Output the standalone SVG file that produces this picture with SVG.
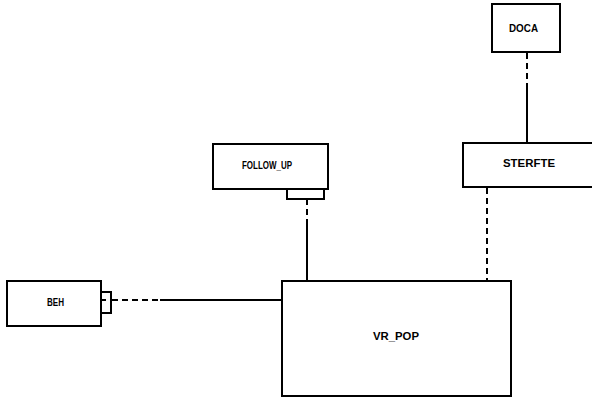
<svg xmlns="http://www.w3.org/2000/svg" width="592" height="398" viewBox="0 0 592 398">
<style>
.box{fill:#fff;stroke:#000;stroke-width:2}
.lbl{font-family:"Liberation Sans",Arial,sans-serif;font-weight:bold;font-size:11px;fill:#000}
.ln{stroke:#000;stroke-width:2;fill:none}
.dash{stroke:#000;stroke-width:2;fill:none;stroke-dasharray:6 4}
</style>
<rect width="592" height="398" fill="#fff"/>
<g id="connectors">
<line class="dash" x1="527" y1="53" x2="527" y2="84"/>
<line class="ln" x1="527" y1="84" x2="527" y2="143"/>
<line class="dash" x1="307" y1="199" x2="307" y2="222"/>
<line class="ln" x1="307" y1="222" x2="307" y2="281"/>
<line class="dash" x1="487" y1="188" x2="487" y2="281"/>
<line class="dash" x1="112" y1="300" x2="160" y2="300"/>
<line class="ln" x1="160" y1="300" x2="282" y2="300"/>
</g>
<g id="DOCA">
<rect class="box" x="492" y="4" width="68" height="48"/>
<text class="lbl" x="509" y="32" textLength="29" lengthAdjust="spacingAndGlyphs">DOCA</text>
</g>
<g id="FOLLOW_UP">
<rect class="box" x="213" y="144" width="115" height="45"/>
<rect class="box" x="287" y="189" width="37" height="10"/>
<text class="lbl" x="242" y="169" textLength="50" lengthAdjust="spacingAndGlyphs">FOLLOW_UP</text>
</g>
<g id="STERFTE">
<rect class="box" x="463" y="143" width="140" height="44"/>
<text class="lbl" x="503" y="167" textLength="52" lengthAdjust="spacingAndGlyphs">STERFTE</text>
</g>
<g id="BEH">
<rect class="box" x="7" y="281" width="94" height="45"/>
<rect class="box" x="101" y="292" width="10" height="21"/>
<line class="ln" x1="101" y1="300" x2="106" y2="300"/>
<text class="lbl" x="47" y="306" textLength="17" lengthAdjust="spacingAndGlyphs">BEH</text>
</g>
<g id="VR_POP">
<rect class="box" x="282" y="281" width="229" height="115"/>
<text class="lbl" x="373" y="340" textLength="46" lengthAdjust="spacingAndGlyphs">VR_POP</text>
</g>
</svg>
